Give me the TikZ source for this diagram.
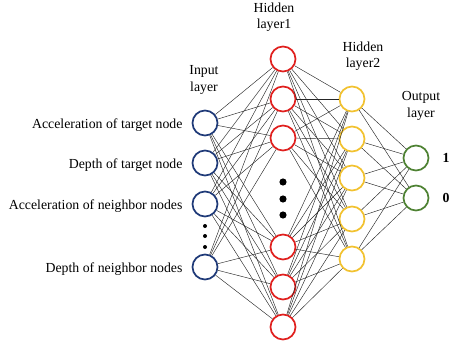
\documentclass[tikz,border=0pt]{standalone}
\usepackage{fontspec}
\setmainfont{Liberation Serif}
\usetikzlibrary{positioning}
\definecolor{inblue}{HTML}{1F3A78}
\definecolor{hidred}{HTML}{E0201E}
\definecolor{hidyel}{HTML}{F2C230}
\definecolor{outgreen}{HTML}{4E8233}
\begin{document}
\begin{tikzpicture}[x=1pt,y=-1pt,
    neuron/.style={circle,draw,line width=1.7pt,minimum size=25pt,inner sep=0pt},
    link/.style={black!85,line width=0.45pt},
    lbl/.style={font=\fontsize{13.8}{16.5}\selectfont,align=center,inner sep=1pt}]
  \useasboundingbox (0,0) rectangle (450,345);
  % neurons
  \foreach \n/\y in {1/123,2/163,3/204,4/267}
    \node[neuron,draw=inblue] (i\n) at (205,\y) {};
  \foreach \n/\y in {1/59,2/99,3/138,4/247,5/287,6/327}
    \node[neuron,draw=hidred] (h\n) at (283,\y) {};
  \foreach \n/\y in {1/99,2/139,3/178,4/219,5/259}
    \node[neuron,draw=hidyel] (k\n) at (352,\y) {};
  \foreach \n/\y in {1/158,2/198}
    \node[neuron,draw=outgreen] (o\n) at (416,\y) {};
  % connections
  \foreach \a in {1,...,4}
    \foreach \b in {1,...,6}
      \draw[link] (i\a) -- (h\b);
  \foreach \a in {1,...,6}
    \foreach \b in {1,...,5}
      \draw[link] (h\a) -- (k\b);
  \foreach \a in {1,...,5}
    \foreach \b in {1,...,2}
      \draw[link] (k\a) -- (o\b);
  % dots
  \foreach \y in {182,199,215}
    \fill (283,\y) circle (3.6);
  \foreach \y in {226,236,247}
    \fill (205,\y) circle (2);
  % input labels
  \node[lbl,left=8pt of i1,yshift=-2pt] (l1) {Acceleration of target node};
  \node[lbl,left=8pt of i2,yshift=-2pt] (l2) {Depth of target node};
  \node[lbl,left=8pt of i3,yshift=-2pt] (l3) {Acceleration of neighbor nodes};
  \node[lbl,left=8pt of i4,yshift=-2pt] (l4) {Depth of neighbor nodes};
  % outputs
  \node[lbl,font=\fontsize{13.8}{16.5}\selectfont\bfseries] (v1) at (446,158) {1};
  \node[lbl,font=\fontsize{13.8}{16.5}\selectfont\bfseries] (v0) at (446,198) {0};
  % titles
  \node[lbl] (tin) at (204,80) {Input\\layer};
  \node[lbl] (th1) at (274,17) {Hidden\\layer1};
  \node[lbl] (th2) at (363,56) {Hidden\\layer2};
  \node[lbl] (tout) at (421,106) {Output\\layer};
\end{tikzpicture}
\end{document}
